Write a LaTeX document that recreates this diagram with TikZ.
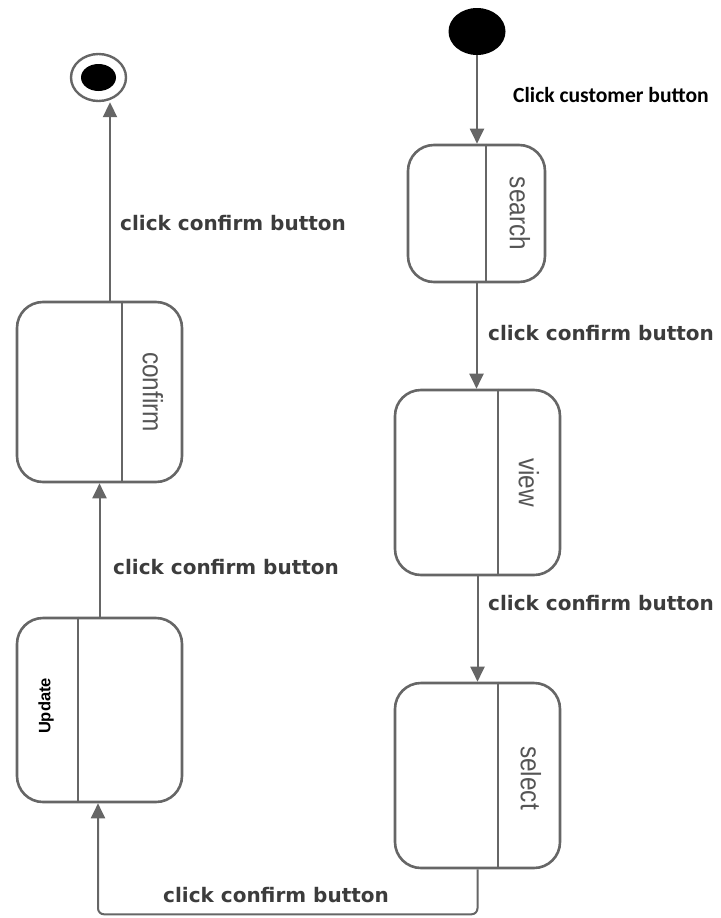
\documentclass[tikz,border=0pt]{standalone}
\usepackage{fontspec}
\setmainfont{Liberation Sans}
\newfontfamily\lblfont{DejaVu Sans}
\newfontfamily\calfont{Carlito}
\usetikzlibrary{arrows.meta,shapes.geometric}
\definecolor{linegray}{HTML}{666666}
\definecolor{labelgray}{HTML}{3C3C3C}
\definecolor{boxtextgray}{HTML}{555555}
\begin{document}
\begin{tikzpicture}[x=1pt,y=1pt,
  statebox/.style={draw=linegray, line width=2.6pt, rounded corners=26pt, inner sep=0pt},
  divider/.style={draw=linegray, line width=2.6pt},
  arr/.style={draw=linegray, line width=2pt, -{Triangle[width=14pt,length=15pt]}},
  trlabel/.style={inner sep=0pt, anchor=west, text=labelgray, font=\lblfont\bfseries\fontsize{20}{24}\selectfont},
  boxtext/.style={inner sep=0pt, text=boxtextgray, font=\fontsize{28}{30}\selectfont}]
\useasboundingbox (0,0) rectangle (720,-918);

% initial and final states
\node[ellipse, fill=black, inner sep=0pt, minimum width=57pt, minimum height=47pt] (init) at (477,-31.5) {};
\node[ellipse, draw=linegray, line width=2.4pt, fill=white, inner sep=0pt, minimum width=55pt, minimum height=47pt] (final) at (98.5,-77.5) {};
\node[ellipse, fill=black, inner sep=0pt, minimum width=35pt, minimum height=27pt] (finaldot) at (final.center) {};

% state boxes
\node[statebox, minimum width=165pt, minimum height=180pt] (confirm) at (99.5,-392) {};
\draw[divider] ([xshift=22.5pt]confirm.north) -- ([xshift=22.5pt]confirm.south);
\node[boxtext, rotate=-90] (confirmlbl) at (153,-392) {\scalebox{0.87}[1]{confirm}};

\node[statebox, minimum width=165pt, minimum height=184pt] (update) at (99.5,-710) {};
\draw[divider] ([xshift=-21.5pt]update.north) -- ([xshift=-21.5pt]update.south);
\node[rotate=90, inner sep=0pt, font=\bfseries\fontsize{16.5}{18}\selectfont] (updatelbl) at (46,-706) {Update};

\node[statebox, minimum width=137pt, minimum height=137pt] (search) at (476.5,-213.5) {};
\draw[divider] ([xshift=9.5pt]search.north) -- ([xshift=9.5pt]search.south);
\node[boxtext, rotate=-90] (searchlbl) at (520,-213.5) {\scalebox{0.87}[1]{search}};

\node[statebox, minimum width=165pt, minimum height=185pt] (view) at (477.5,-482.5) {};
\draw[divider] ([xshift=20.5pt]view.north) -- ([xshift=20.5pt]view.south);
\node[boxtext, rotate=-90] (viewlbl) at (529,-482.5) {\scalebox{0.87}[1]{view}};

\node[statebox, minimum width=165pt, minimum height=185pt] (select) at (477.5,-775.5) {};
\draw[divider] ([xshift=20.5pt]select.north) -- ([xshift=20.5pt]select.south);
\node[boxtext, rotate=-90] (selectlbl) at (531,-778) {\scalebox{0.87}[1]{select}};

% connectors
\draw[arr] ([xshift=10.5pt]confirm.north) -- ([xshift=10.5pt]confirm.north |- final.south);
\draw[arr] (update.north) -- (confirm.south);
\draw[arr] (init.south) -- (init.south |- search.north);
\draw[arr] (search.south) -- (search.south |- view.north);
\draw[arr] (view.south) -- (select.north);
\draw[arr, rounded corners=6pt] (select.south) -- ++(0,-45) -| ([xshift=-1.5pt]update.south);

% labels
\node[trlabel] (l1) at (120,-223) {click confirm button};
\node[trlabel] (l2) at (113,-567) {click confirm button};
\node[trlabel] (l3) at (163,-895) {click confirm button};
\node[trlabel] (r2) at (488,-333) {click confirm button};
\node[trlabel] (r3) at (488,-603) {click confirm button};
\node[inner sep=0pt, anchor=west, text=black, font=\calfont\bfseries\fontsize{21.6}{24}\selectfont] (r1) at (513,-95) {Click customer button};
\end{tikzpicture}
\end{document}
